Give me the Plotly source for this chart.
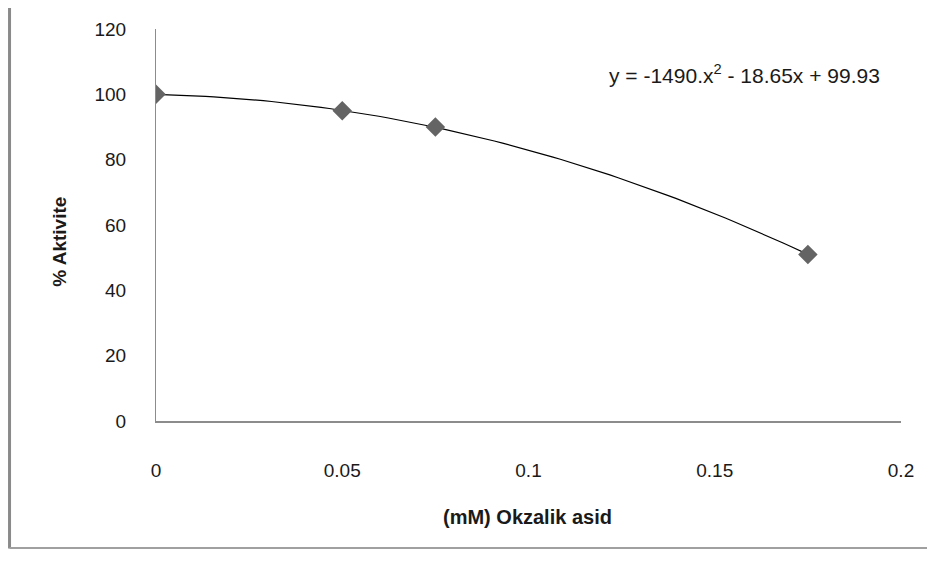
import numpy as np
import plotly.graph_objects as go

# Data
conc_mM = [0, 0.05, 0.075, 0.175]
activity_pct = [100, 95, 90, 51]
x_ticks = [0, 0.05, 0.1, 0.15, 0.2]
x_tick_labels = ["0", "0.05", "0.1", "0.15", "0.2"]
y_ticks = [0, 20, 40, 60, 80, 100, 120]
equation_text = "y = -1490.x<sup>2</sup> - 18.65x + 99.93"

# Polynomial (order 2) trendline fitted to the data, as in the source chart
coef = np.polyfit(conc_mM, activity_pct, 2)
xt = np.linspace(min(conc_mM), max(conc_mM), 80)
yt = np.polyval(coef, xt)

FONT = "Liberation Sans"
GRAY = "#646464"
AXIS = "#8c8c8c"
TXT = "#1a1a1a"

fig = go.Figure()
fig.add_trace(go.Scatter(x=xt, y=yt, mode="lines",
                         line=dict(color="black", width=1.2),
                         hoverinfo="skip", showlegend=False))
fig.add_trace(go.Scatter(x=conc_mM, y=activity_pct, mode="markers",
                         marker=dict(symbol="diamond", size=15, color=GRAY,
                                     line=dict(width=0)),
                         showlegend=False))

fig.update_layout(
    width=935, height=565,
    margin=dict(l=148, r=42, t=21, b=152),
    paper_bgcolor="white", plot_bgcolor="white",
    font=dict(family=FONT, size=19, color=TXT),
    xaxis=dict(range=[0, 0.2], tickvals=x_ticks, ticktext=x_tick_labels,
               showgrid=False, zeroline=False, showline=True,
               linecolor=AXIS, linewidth=2, ticks="",
               ticklabelstandoff=31, tickfont=dict(size=19)),
    yaxis=dict(range=[0, 120], tickvals=y_ticks,
               showgrid=False, zeroline=False, showline=True,
               linecolor=AXIS, linewidth=1, ticks="",
               ticklabelstandoff=25, tickfont=dict(size=19)),
    annotations=[
        dict(text=equation_text, xref="paper", yref="paper",
             x=0.9745, y=0.885, xanchor="right", yanchor="middle",
             showarrow=False, font=dict(family=FONT, size=21, color=TXT)),
        dict(text="<b>(mM) Okzalik asid</b>", xref="paper", yref="paper",
             x=0.498, y=-0.245, xanchor="center", yanchor="middle",
             showarrow=False, font=dict(family=FONT, size=20, color=TXT)),
        dict(text="<b>% Aktivite</b>", xref="paper", yref="paper",
             x=-0.129, y=0.457, xanchor="center", yanchor="middle",
             textangle=-90, showarrow=False,
             font=dict(family=FONT, size=19, color=TXT)),
    ],
    shapes=[
        dict(type="line", xref="paper", yref="paper",
             x0=-0.1966, x1=-0.1966, y0=-0.325, y1=1.1,
             line=dict(color="#8a8a8a", width=3)),
        dict(type="line", xref="paper", yref="paper",
             x0=-0.1966, x1=1.06, y0=-0.324, y1=-0.324,
             line=dict(color="#a0a0a0", width=2)),
    ],
)

fig.write_html("out.html")
